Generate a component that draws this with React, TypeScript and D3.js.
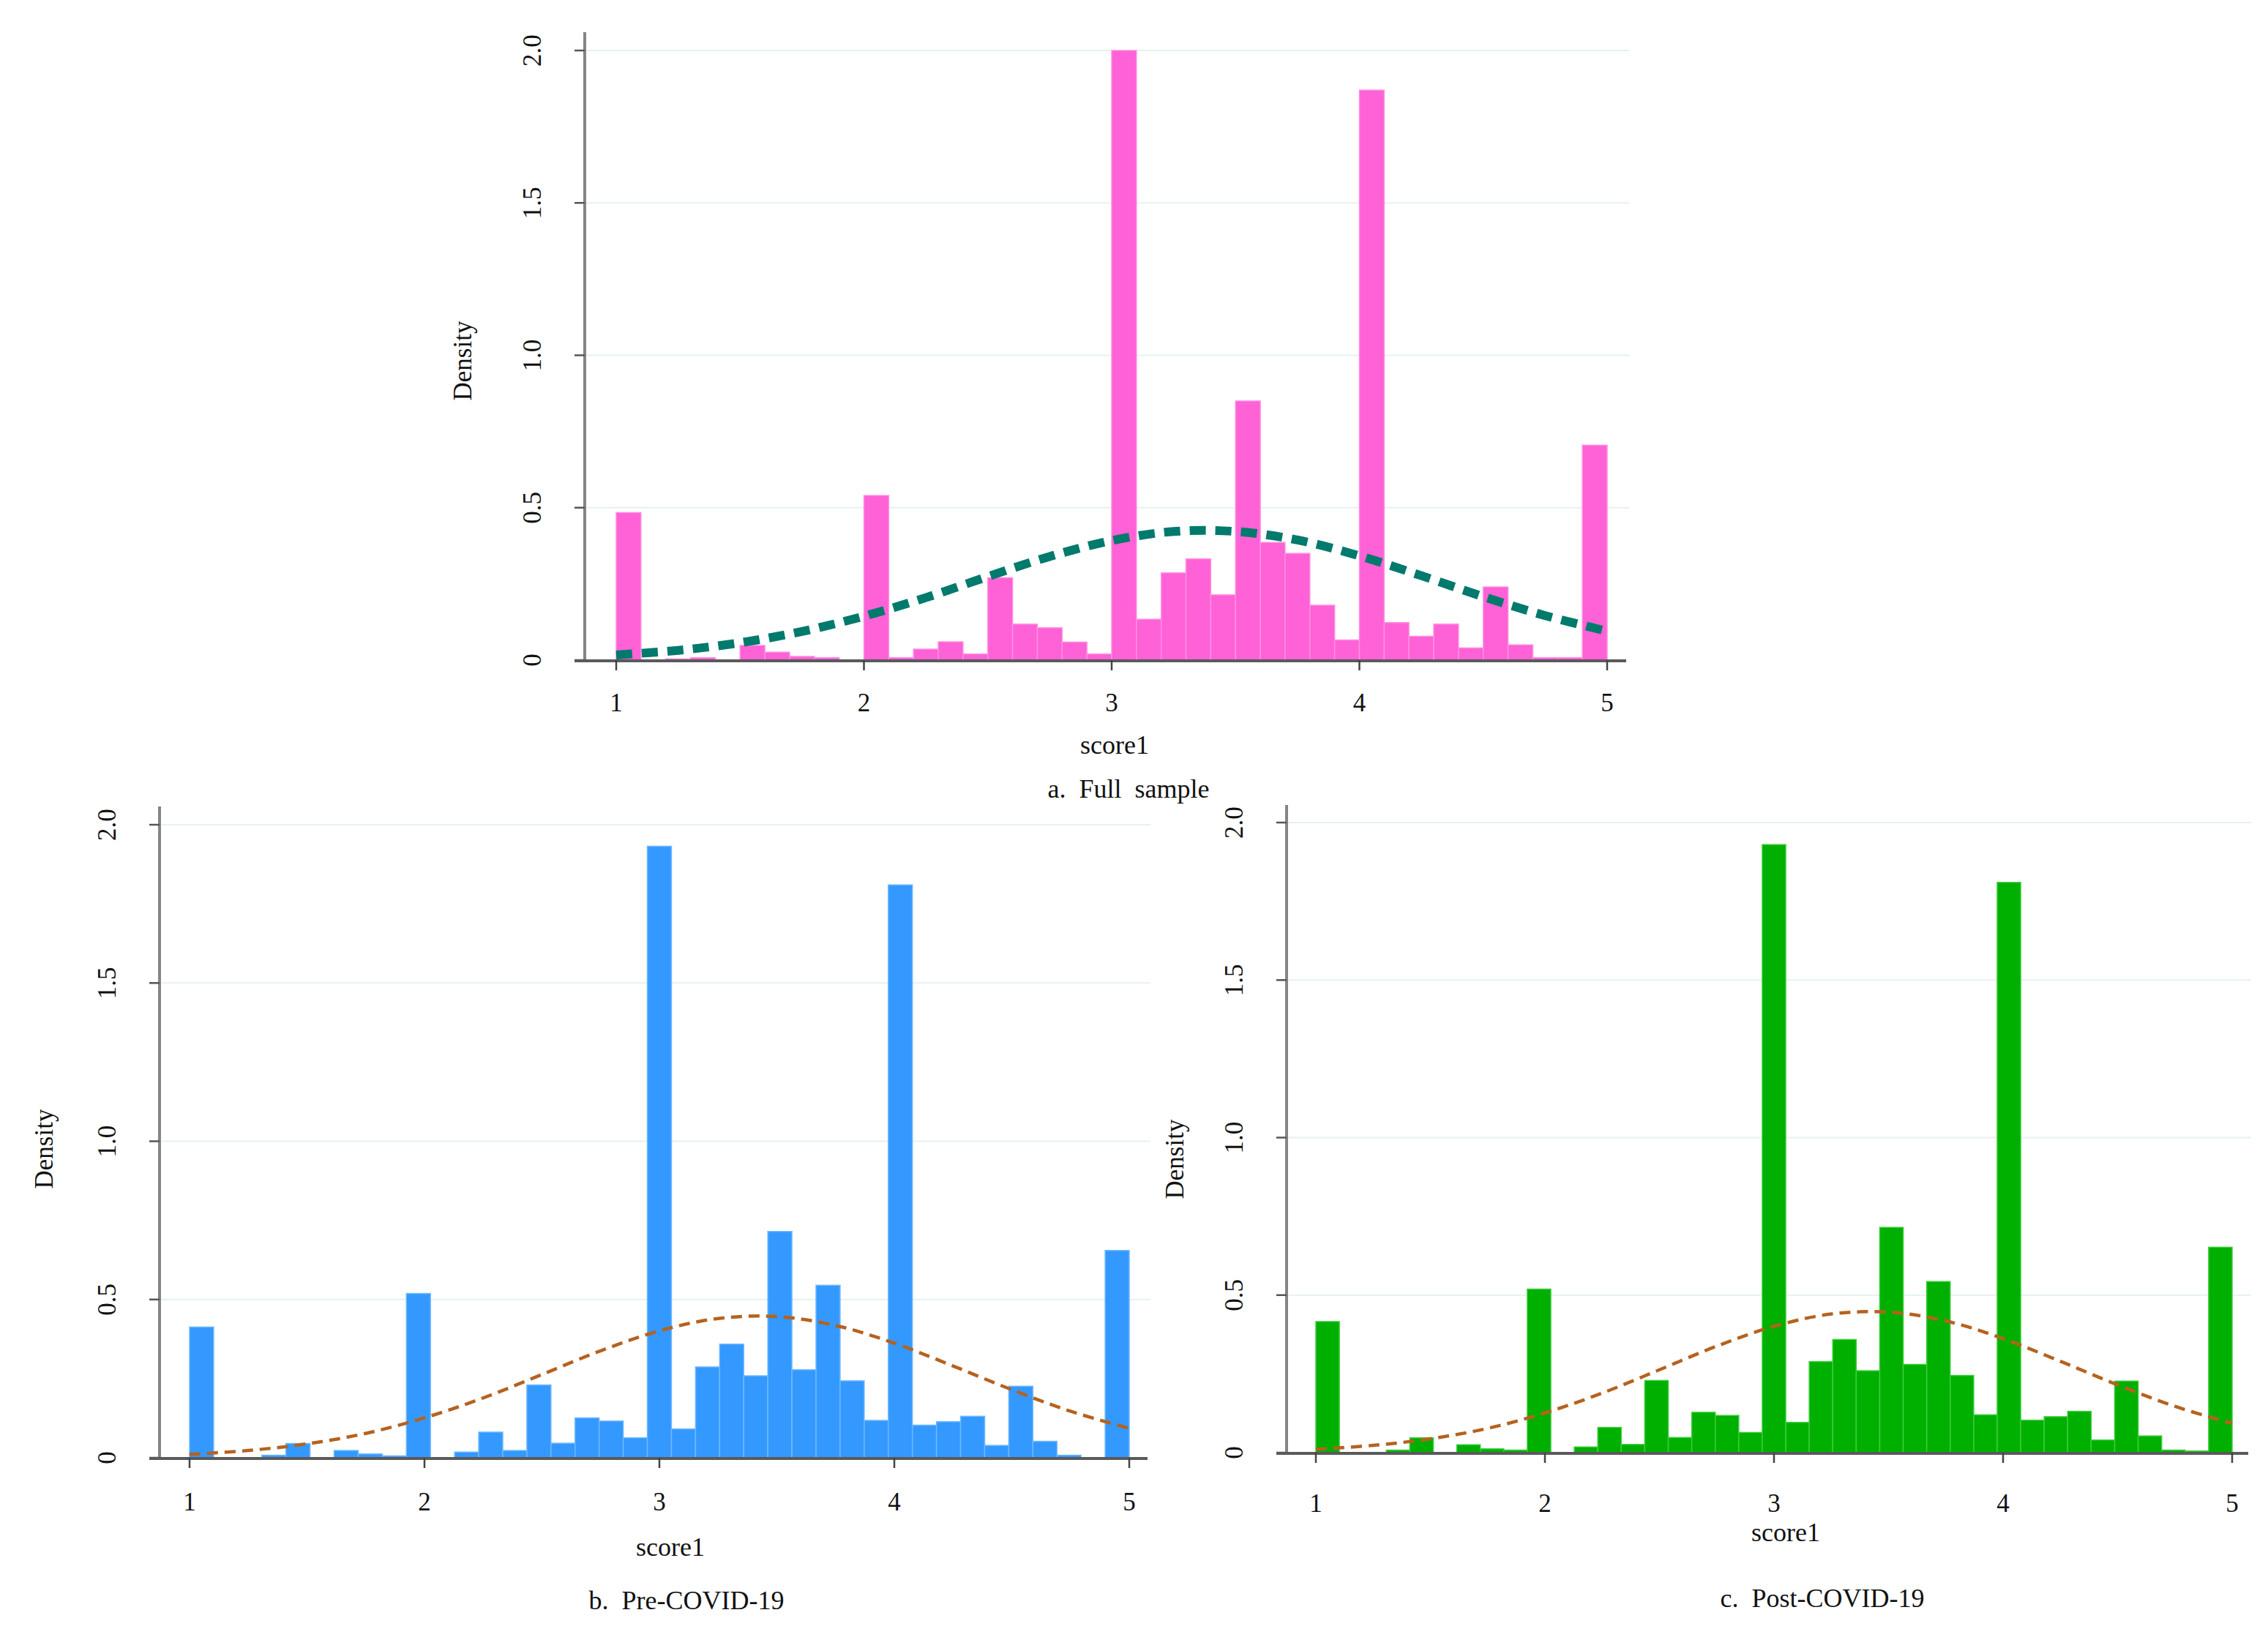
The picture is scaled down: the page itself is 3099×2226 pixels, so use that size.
import React from "react";
import * as d3 from "d3";

// ---------- data ----------
const xTicks = [1, 2, 3, 4, 5];
const yTicks = [0, 0.5, 1.0, 1.5, 2.0];
const yTickLabels = ["0", "0.5", "1.0", "1.5", "2.0"];

// Panel a: 40 bins of width 0.1 from 1 to 5
const fullDensity = [
  0.484, 0, 0.004, 0.008, 0, 0.048, 0.026, 0.012, 0.008, 0,
  0.54, 0.008, 0.036, 0.06, 0.02, 0.27, 0.118, 0.106, 0.059, 0.02,
  2.0, 0.134, 0.286, 0.332, 0.214, 0.85, 0.386, 0.35, 0.18, 0.066,
  1.87, 0.123, 0.078, 0.118, 0.04, 0.24, 0.05, 0.008, 0.008, 0.705,
];

// Panel b: 39 bins from 1 to 5
const preDensity = [
  0.413, 0, 0, 0.008, 0.045, 0, 0.023, 0.012, 0.006, 0.519,
  0, 0.018, 0.081, 0.023, 0.23, 0.046, 0.126, 0.116, 0.063, 1.932,
  0.091, 0.287, 0.359, 0.259, 0.715, 0.278, 0.545, 0.243, 0.118, 1.81,
  0.103, 0.114, 0.131, 0.039, 0.226, 0.052, 0.008, 0, 0.655,
];

// Panel c: 39 bins from 1 to 5
const postDensity = [
  0.416, 0, 0, 0.008, 0.047, 0, 0.025, 0.012, 0.008, 0.519,
  0, 0.018, 0.08, 0.026, 0.229, 0.048, 0.128, 0.118, 0.064, 1.93,
  0.096, 0.289, 0.359, 0.26, 0.715, 0.28, 0.543, 0.245, 0.12, 1.81,
  0.103, 0.114, 0.131, 0.04, 0.227, 0.053, 0.008, 0.005, 0.652,
];

// Normal-density overlay, read at x = 1, 1.25, ..., 5
const curveX = [1, 1.25, 1.5, 1.75, 2, 2.25, 2.5, 2.75, 3, 3.25, 3.5, 3.75, 4, 4.25, 4.5, 4.75, 5];
const fullCurve = [0.017, 0.032, 0.057, 0.094, 0.144, 0.205, 0.274, 0.34, 0.392, 0.422, 0.422, 0.394, 0.342, 0.277, 0.208, 0.146, 0.095];
const preCurve = [0.011, 0.023, 0.044, 0.077, 0.126, 0.189, 0.263, 0.338, 0.401, 0.44, 0.446, 0.418, 0.362, 0.29, 0.215, 0.147, 0.093];
const postCurve = [0.011, 0.023, 0.044, 0.077, 0.126, 0.189, 0.263, 0.338, 0.401, 0.44, 0.446, 0.418, 0.362, 0.29, 0.215, 0.147, 0.093];

const xTitle = "score1";
const yTitle = "Density";

// ---------- layout ----------
type Panel = {
  values: number[];
  curve: number[];
  title: string;
  x1: number; x5: number; y0: number; y2: number;
  axisX: number; axisTop: number; xEnd: number;
  fill: string; edge: string;
  curveColor: string; curveWidth: number; dash: string;
  tickLabelY: number; xTitleX: number; xTitleY: number;
  titleX: number; titleY: number;
  yTitleX: number; yTitleY: number;
};

const panels: Panel[] = [
  {
    values: fullDensity, curve: fullCurve, title: "a.  Full  sample",
    x1: 842, x5: 2196, y0: 902, y2: 69, axisX: 799, axisTop: 44, xEnd: 2226,
    fill: "#ff61d6", edge: "#ff8fe2",
    curveColor: "#007a6c", curveWidth: 12, dash: "22 13",
    tickLabelY: 972, xTitleX: 1523, xTitleY: 1030, titleX: 1542, titleY: 1090,
    yTitleX: 632, yTitleY: 493,
  },
  {
    values: preDensity, curve: preCurve, title: "b.  Pre-COVID-19",
    x1: 259, x5: 1543, y0: 1992, y2: 1127, axisX: 218, axisTop: 1102, xEnd: 1572,
    fill: "#3399ff", edge: "#6fb8ff",
    curveColor: "#b5621f", curveWidth: 4.5, dash: "15 9",
    tickLabelY: 2064, xTitleX: 916, xTitleY: 2126, titleX: 938, titleY: 2199,
    yTitleX: 60, yTitleY: 1570,
  },
  {
    values: postDensity, curve: postCurve, title: "c.  Post-COVID-19",
    x1: 1798, x5: 3050, y0: 1985, y2: 1124, axisX: 1758, axisTop: 1100, xEnd: 3076,
    fill: "#00b000", edge: "#3ccc3c",
    curveColor: "#b5621f", curveWidth: 4.5, dash: "15 9",
    tickLabelY: 2066, xTitleX: 2440, xTitleY: 2106, titleX: 2490, titleY: 2196,
    yTitleX: 1605, yTitleY: 1584,
  },
];

const FONT = "'Liberation Serif', 'DejaVu Serif', serif";

function HistPanel({ p }: { p: Panel }) {
  const x = d3.scaleLinear().domain([1, 5]).range([p.x1, p.x5]);
  const y = d3.scaleLinear().domain([0, 2]).range([p.y0, p.y2]);
  const n = p.values.length;
  const w = 4 / n;
  const line = d3
    .line<number>()
    .x((_, i) => x(curveX[i]))
    .y((d) => y(d))
    .curve(d3.curveCatmullRom.alpha(0.5));

  return (
    <g>
      {yTicks.slice(1).map((t) => (
        <line key={"g" + t} x1={p.axisX} x2={p.xEnd} y1={y(t)} y2={y(t)} stroke="#e6f1f1" strokeWidth={2} />
      ))}
      {p.values.map((v, i) => {
        const x0 = x(1 + i * w);
        const xr = x(1 + (i + 1) * w);
        if (v <= 0) return null;
        return (
          <rect key={"b" + i} x={x0} y={y(v)} width={xr - x0} height={p.y0 - y(v)} fill={p.fill} stroke={p.edge} strokeWidth={1.5} />
        );
      })}
      <line x1={p.axisX} x2={p.axisX} y1={p.axisTop} y2={p.y0} stroke="#858585" strokeWidth={4} />
      {yTicks.map((t, i) => (
        <g key={"yt" + t}>
          <line x1={p.axisX - 14} x2={p.axisX} y1={y(t)} y2={y(t)} stroke="#555" strokeWidth={2.5} />
          <text
            transform={`translate(${p.axisX - 72},${y(t)}) rotate(-90)`}
            textAnchor="middle"
            dy="0.35em"
            fontFamily={FONT}
            fontSize={35}
            fill="#111"
          >
            {yTickLabels[i]}
          </text>
        </g>
      ))}
      <line x1={p.axisX - 14} x2={p.xEnd - 4} y1={p.y0 + 1} y2={p.y0 + 1} stroke="#5a5a5a" strokeWidth={4} />
      {xTicks.map((t) => (
        <g key={"xt" + t}>
          <line x1={x(t)} x2={x(t)} y1={p.y0} y2={p.y0 + 14} stroke="#444" strokeWidth={2.5} />
          <text x={x(t)} y={p.tickLabelY} textAnchor="middle" fontFamily={FONT} fontSize={35} fill="#111">
            {t}
          </text>
        </g>
      ))}
      <path
        d={line(p.curve) || ""}
        fill="none"
        stroke={p.curveColor}
        strokeWidth={p.curveWidth}
        strokeDasharray={p.dash}
      />
      <text x={p.xTitleX} y={p.xTitleY} textAnchor="middle" fontFamily={FONT} fontSize={36} fill="#111">
        {xTitle}
      </text>
      <text
        transform={`translate(${p.yTitleX},${p.yTitleY}) rotate(-90)`}
        textAnchor="middle"
        dy="0.35em"
        fontFamily={FONT}
        fontSize={35}
        fill="#111"
      >
        {yTitle}
      </text>
      <text
        x={p.titleX}
        y={p.titleY}
        textAnchor="middle"
        fontFamily={FONT}
        fontSize={36}
        fill="#111"
        style={{ whiteSpace: "pre" }}
      >
        {p.title}
      </text>
    </g>
  );
}

export default function App() {
  return (
    <svg
      width={3099}
      height={2226}
      viewBox="0 0 3099 2226"
      style={{ position: "absolute", left: 0, top: 0, display: "block", background: "#fff" }}
    >
      <rect x={0} y={0} width={3099} height={2226} fill="#fff" />
      {panels.map((p, i) => (
        <HistPanel key={i} p={p} />
      ))}
    </svg>
  );
}
